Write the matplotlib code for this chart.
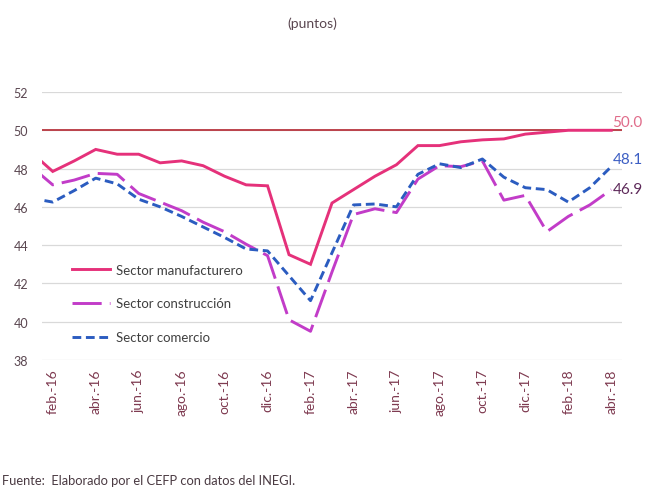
import matplotlib
matplotlib.use('Agg')
import matplotlib.pyplot as plt

plt.rcParams['font.family'] = ['Lato', 'DejaVu Sans']

# ---- data -------------------------------------------------------------
months = ['ene.-16', 'feb.-16', 'mar.-16', 'abr.-16', 'may.-16', 'jun.-16', 'jul.-16',
          'ago.-16', 'sep.-16', 'oct.-16', 'nov.-16', 'dic.-16',
          'ene.-17', 'feb.-17', 'mar.-17', 'abr.-17', 'may.-17', 'jun.-17', 'jul.-17',
          'ago.-17', 'sep.-17', 'oct.-17', 'nov.-17', 'dic.-17',
          'ene.-18', 'feb.-18', 'mar.-18', 'abr.-18']
manufacturero = [48.85, 47.85, 48.4, 49.0, 48.75, 48.75, 48.3, 48.4, 48.15, 47.6, 47.15, 47.1,
                 43.5, 43.0, 46.2, 46.9, 47.6, 48.2, 49.2, 49.2, 49.4, 49.5, 49.55, 49.8,
                 49.9, 50.0, 50.0, 50.0]
construccion = [48.1, 47.15, 47.4, 47.75, 47.7, 46.7, 46.25, 45.8, 45.2, 44.7, 44.05, 43.45,
                40.1, 39.5, 42.6, 45.6, 45.9, 45.7, 47.45, 48.15, 48.1, 48.4, 46.35, 46.6,
                44.7, 45.5, 46.1, 46.9]
comercio = [46.45, 46.25, 46.85, 47.5, 47.2, 46.4, 46.0, 45.5, 44.95, 44.4, 43.8, 43.7,
            42.4, 41.1, 43.6, 46.1, 46.15, 46.0, 47.7, 48.25, 48.05, 48.5, 47.55, 47.0,
            46.9, 46.25, 47.0, 48.1]
series_names = ['Sector manufacturero', 'Sector construcción', 'Sector comercio']
y_ticks = [38, 40, 42, 44, 46, 48, 50, 52]
ref_level = 50
end_labels = ['50.0', '48.1', '46.9']
end_label_y = [50.45, 48.5, 46.95]
title = '(puntos)'
source = 'Fuente:  Elaborado por el CEFP con datos del INEGI.'

# ---- style ------------------------------------------------------------
c_man = '#E5317A'
c_con = '#C23CC8'
c_com = '#2B5CC0'
c_ref = '#B8363F'
c_tick = '#7E3A50'
c_txt = '#5A4650'

W, H = 645, 489
fig = plt.figure(figsize=(W / 100, H / 100), dpi=100)
ax = fig.add_axes([42 / W, 1 - 361 / H, 580 / W, 268 / H])

x = list(range(len(months)))
ax.set_xlim(0.5, len(months) - 0.5)
ax.set_ylim(y_ticks[0], y_ticks[-1])

for yv in y_ticks:
    ax.axhline(yv, color='#D9D9D9', lw=0.9, zorder=1)
ax.axhline(ref_level, color=c_ref, lw=1.3, zorder=2)

ax.plot(x, manufacturero, color=c_man, lw=2.1, solid_joinstyle='miter', zorder=5,
        label=series_names[0])
ax.plot(x, construccion, color=c_con, lw=2.1, dashes=(10, 2.8), zorder=4,
        label=series_names[1])
ax.plot(x, comercio, color=c_com, lw=2.1, dashes=(3, 1.6), zorder=4,
        label=series_names[2])

for s in ax.spines.values():
    s.set_visible(False)

ax.set_yticks(y_ticks)
ax.set_yticklabels([str(v) for v in y_ticks], fontsize=9, color=c_txt)
tick_idx = x[1::2]
ax.set_xticks(tick_idx)
ax.set_xticklabels([months[i] for i in tick_idx], rotation=90, fontsize=10, color=c_tick)
ax.tick_params(axis='both', length=0)
ax.tick_params(axis='x', pad=6)
ax.tick_params(axis='y', pad=10)

leg = ax.legend(loc='center left', bbox_to_anchor=(30 / 580, (361 - 304.5) / 268),
                frameon=False, fontsize=9.5, labelspacing=1.65, handlelength=2.9,
                handletextpad=0.45, borderpad=0, borderaxespad=0, labelcolor='#404040')

end_colors = ['#E06C8A', '#3D5FC4', '#5E2A5A']
for lab, yy, cc in zip(end_labels, end_label_y, end_colors):
    ax.text(27.05, yy, lab, color=cc, fontsize=11, va='center', ha='left', clip_on=False)

fig.text(312 / W, 1 - 24 / H, title, ha='center', va='center', fontsize=10, color=c_txt)
fig.text(2 / W, 1 - 481 / H, source, ha='left', va='center', fontsize=9.3, color='#4A3A42')

fig.savefig('out.png', dpi=100)
